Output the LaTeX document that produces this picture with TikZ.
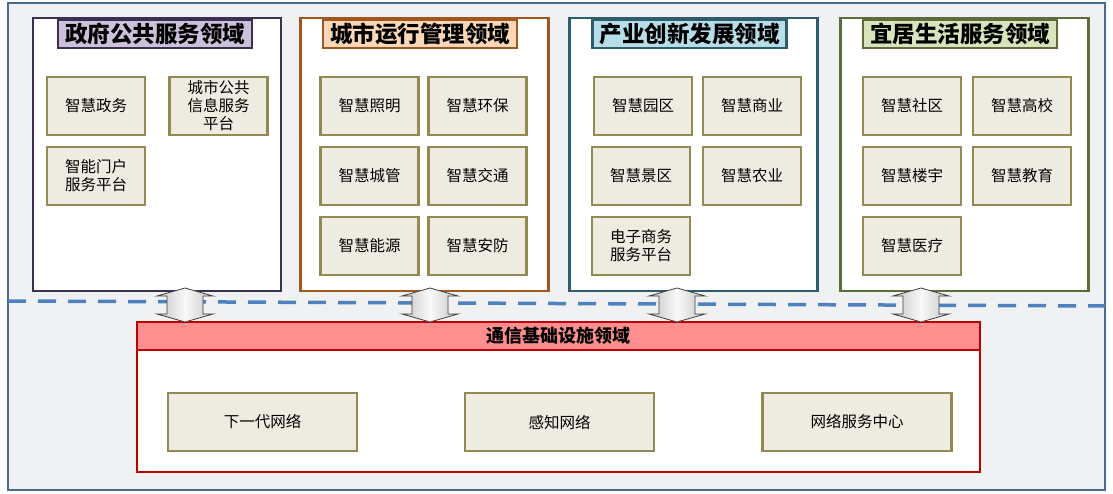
\documentclass[tikz,border=0pt]{standalone}
\usepackage{xcolor}
\usepackage{tikz}
\usepackage{fontspec}
\newfontfamily\cjk{Noto Sans CJK SC}
\usetikzlibrary{shapes,arrows,positioning,calc,arrows.meta}

\definecolor{framec}{HTML}{4A6A8F}
\definecolor{bgc}{HTML}{F0F1F3}
\definecolor{govc}{HTML}{3C2F52}
\definecolor{govf}{HTML}{CCC1DA}
\definecolor{cityc}{HTML}{A0561E}
\definecolor{cityf}{HTML}{FAD7B6}
\definecolor{indc}{HTML}{2F5D6E}
\definecolor{indf}{HTML}{B7DEE8}
\definecolor{livec}{HTML}{5E6B3A}
\definecolor{livef}{HTML}{D8E4BC}
\definecolor{boxf}{HTML}{EEECE1}
\definecolor{boxc}{HTML}{938953}
\definecolor{commc}{HTML}{C00000}
\definecolor{commf}{HTML}{FF8E8E}
\definecolor{dashc}{HTML}{4F81BD}

\tikzset{
    panel/.style={draw, line width=2.5pt, fill=white, minimum width=248pt, minimum height=273pt, inner sep=0pt},
    paneltitle/.style={draw, line width=2.5pt, minimum width=194pt, minimum height=28pt, inner sep=0pt, font=\cjk\bfseries\fontsize{22.5}{22.5}\selectfont},
    itembox/.style={draw=boxc, fill=boxf, line width=2.8pt, minimum width=98pt, minimum height=58pt, inner sep=0pt, align=center, font=\cjk\fontsize{15.5}{18}\selectfont},
    netbox/.style={itembox, minimum width=189pt},
    linkarrow/.style={draw=black!75, line width=0.8pt, left color=gray!45, right color=gray!45, middle color=gray!5}
}
% up-down arrow around a named coordinate
\newcommand{\linkat}[1]{%
    \draw[linkarrow] ($(#1)+(0,-17)$) -- ++(28,8) -- ++(-10,0) -- ++(0,18)
        -- ++(10,0) -- ++(-28,8) -- ++(-28,-8) -- ++(10,0) -- ++(0,-18)
        -- ++(-10,0) -- cycle;}

\begin{document}
\begin{tikzpicture}[x=1pt, y=-1pt]
    \useasboundingbox (0,0) rectangle (1113,493);
    % Outer frame
    \draw[framec, line width=2.5pt, fill=bgc] (8,3) rectangle (1105,490);

    % Government
    \node[panel, draw=govc] (gov) at (157,154.5) {};
    \node[paneltitle, draw=govc, fill=govf] (govtitle) at (155,34) {政府公共服务领域};
    \node[itembox] (gov1) at (96,106) {智慧政务};
    \node[itembox] (gov2) at (218.5,106) {城市公共\\信息服务\\平台};
    \node[itembox] (gov3) at (96,176) {智能门户\\服务平台};

    % City operation
    \node[panel, draw=cityc] (city) at (424.5,154.5) {};
    \node[paneltitle, draw=cityc, fill=cityf] (citytitle) at (420,34) {城市运行管理领域};
    \node[itembox] (city1) at (369.5,106) {智慧照明};
    \node[itembox] (city2) at (477.5,106) {智慧环保};
    \node[itembox] (city3) at (369.5,176) {智慧城管};
    \node[itembox] (city4) at (477.5,176) {智慧交通};
    \node[itembox] (city5) at (369.5,246) {智慧能源};
    \node[itembox] (city6) at (477.5,246) {智慧安防};

    % Industry
    \node[panel, draw=indc] (ind) at (693.5,154.5) {};
    \node[paneltitle, draw=indc, fill=indf] (indtitle) at (689.5,34) {产业创新发展领域};
    \node[itembox] (ind1) at (643,106) {智慧园区};
    \node[itembox] (ind2) at (752,106) {智慧商业};
    \node[itembox] (ind3) at (641,176) {智慧景区};
    \node[itembox] (ind4) at (752,176) {智慧农业};
    \node[itembox] (ind5) at (641,246) {电子商务\\服务平台};

    % Living
    \node[panel, draw=livec] (live) at (964.5,154.5) {};
    \node[paneltitle, draw=livec, fill=livef] (livetitle) at (960,34) {宜居生活服务领域};
    \node[itembox] (live1) at (912,106) {智慧社区};
    \node[itembox] (live2) at (1022,106) {智慧高校};
    \node[itembox] (live3) at (912,176) {智慧楼宇};
    \node[itembox] (live4) at (1022,176) {智慧教育};
    \node[itembox] (live5) at (912,246) {智慧医疗};

    % Divider
    \draw[dashc, line width=3.5pt, dash pattern=on 18pt off 12pt] (8,301) -- (1105,306);

    % Communication
    \node[draw=commc, fill=white, line width=2.5pt, minimum width=843pt, minimum height=150pt, inner sep=0pt] (comm) at (558.5,397) {};
    \node[draw=commc, fill=commf, line width=2.5pt, minimum width=843pt, minimum height=28pt, inner sep=0pt, font=\cjk\bfseries\fontsize{18}{18}\selectfont] (commtitle) at (558.5,336) {通信基础设施领域};
    \node[netbox] (net1) at (262.5,422) {下一代网络};
    \node[netbox] (net2) at (559.5,422) {感知网络};
    \node[netbox] (net3) at (857,422) {网络服务中心};

    % Links
    \coordinate (link1) at (185,305);
    \coordinate (link2) at (430,305);
    \coordinate (link3) at (677,305);
    \coordinate (link4) at (921,305);
    \linkat{link1}
    \linkat{link2}
    \linkat{link3}
    \linkat{link4}
\end{tikzpicture}
\end{document}
